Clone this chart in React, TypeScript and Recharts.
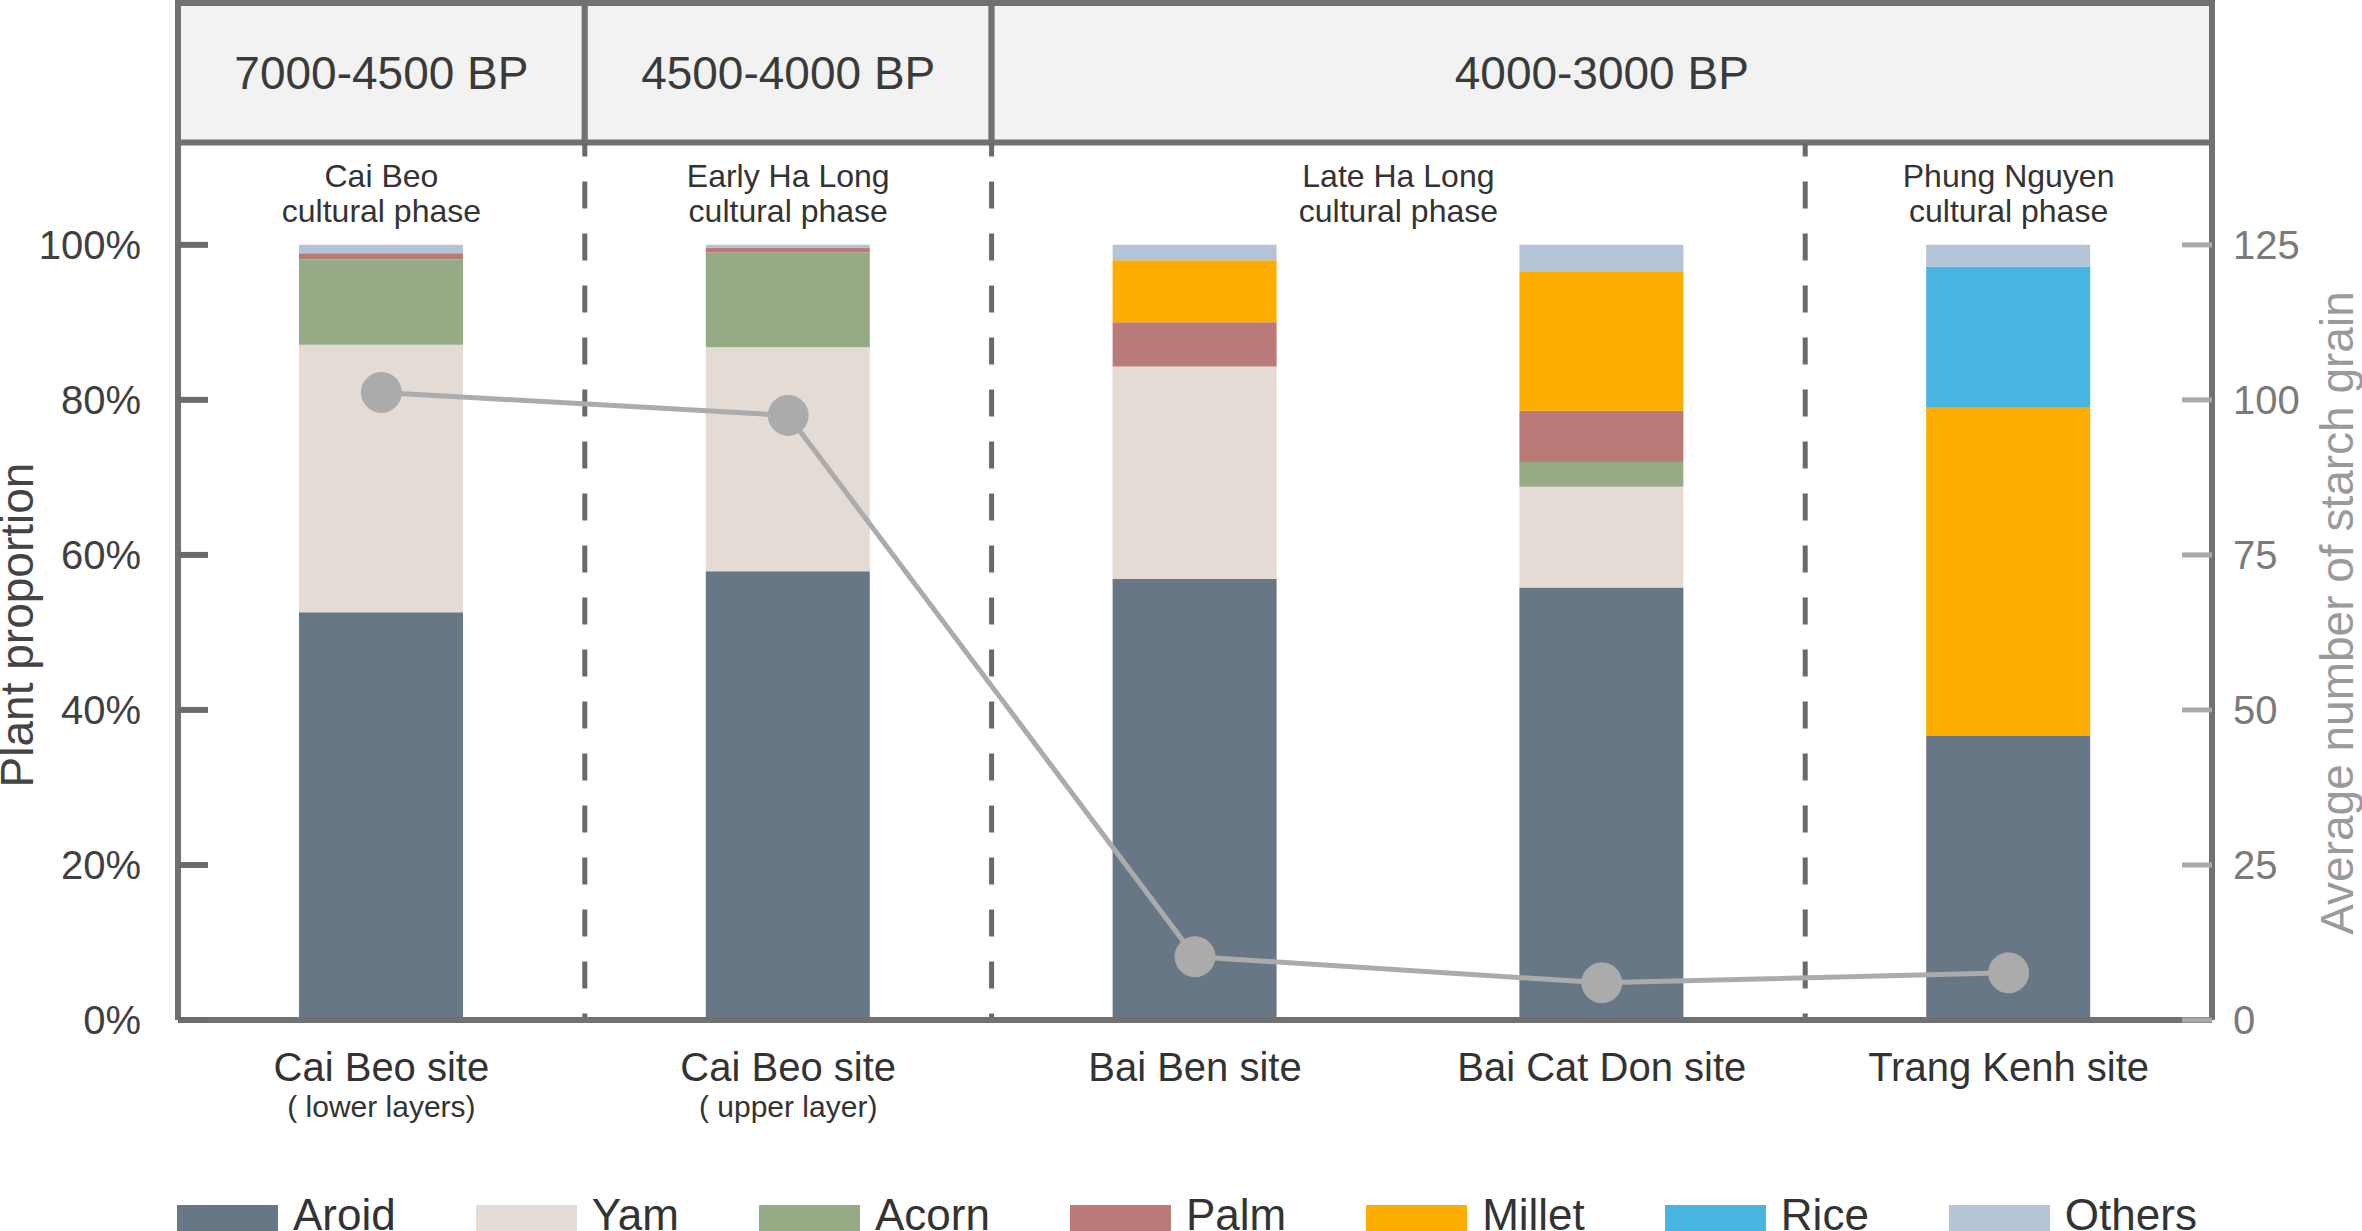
import React from "react";
import {
  ComposedChart,
  Bar,
  Line,
  XAxis,
  YAxis,
  ReferenceArea,
  ReferenceLine,
} from "recharts";

// sites along the x axis
const siteNames = ["Cai Beo site", "Cai Beo site", "Bai Ben site", "Bai Cat Don site", "Trang Kenh site"];
const siteNotes = ["( lower layers)", "( upper layer)", "", "", ""];

// plant proportion (%) per site, bottom to top of each stack
const aroid = [52.6, 57.9, 56.9, 55.8, 36.7];
const yam = [34.5, 28.9, 27.4, 13.0, 0];
const acorn = [11.0, 12.2, 0, 3.2, 0];
const palm = [0.8, 0.6, 5.7, 6.6, 0];
const millet = [0, 0, 8.0, 18.0, 42.3];
const rice = [0, 0, 0, 0, 18.2];
const others = [1.1, 0.4, 2.0, 3.4, 2.8];

// average number of starch grains (right axis)
const grains = [101.2, 97.5, 10.2, 6.0, 7.6];

const leftTicks = [0, 20, 40, 60, 80, 100];
const rightTicks = [0, 25, 50, 75, 100, 125];

// period header boxes: [label, first site, last site]
const periods: [string, number, number][] = [
  ["7000-4500 BP", 0, 0],
  ["4500-4000 BP", 1, 1],
  ["4000-3000 BP", 2, 4],
];

// cultural phases: [line 1, line 2, first site, last site]
const phases: [string, string, number, number][] = [
  ["Cai Beo", "cultural phase", 0, 0],
  ["Early Ha Long", "cultural phase", 1, 1],
  ["Late Ha Long", "cultural phase", 2, 3],
  ["Phung Nguyen", "cultural phase", 4, 4],
];

// dashed separators sit at the start of these sites
const separators = [1, 2, 4];

const series = [
  { key: "Aroid", values: aroid, color: "#687785" },
  { key: "Yam", values: yam, color: "#e3dbd4" },
  { key: "Acorn", values: acorn, color: "#97aa86" },
  { key: "Palm", values: palm, color: "#b97a78" },
  { key: "Millet", values: millet, color: "#fdad00" },
  { key: "Rice", values: rice, color: "#48b5e0" },
  { key: "Others", values: others, color: "#b5c3d6" },
];

const siteIds = siteNames.map((n, i) => `${n}${siteNotes[i]}`);

const data = siteIds.map((id, i) => {
  const row: Record<string, string | number> = { id, grains: grains[i] };
  series.forEach((s) => {
    row[s.key] = s.values[i];
  });
  return row;
});

const FONT = "'Liberation Sans', Arial, Helvetica, sans-serif";
const LEFT_MAX = 131.2;
const RIGHT_MAX = LEFT_MAX * 1.25;
const HEADER_BOTTOM = 113.2;
const AXIS = "#717171";

function SiteTick(props: any) {
  const { x, y, payload } = props;
  const i = payload?.index ?? props.index ?? 0;
  return (
    <g>
      <text x={x} y={y + 61} textAnchor="middle" fontSize={40} fill="#333">
        {siteNames[i]}
      </text>
      {siteNotes[i] ? (
        <text x={x} y={y + 97} textAnchor="middle" fontSize={30} fill="#333">
          {siteNotes[i]}
        </text>
      ) : null}
    </g>
  );
}

function PhaseLabel(props: any) {
  const { viewBox, lines } = props;
  if (!viewBox) return null;
  const cx = viewBox.x + viewBox.width / 2;
  return (
    <text textAnchor="middle" fontSize={32} fill="#333">
      <tspan x={cx} y={viewBox.y + 44}>
        {lines[0]}
      </tspan>
      <tspan x={cx} y={viewBox.y + 79}>
        {lines[1]}
      </tspan>
    </text>
  );
}

export default function App() {
  return (
    <div
      style={{
        position: "absolute",
        left: 0,
        top: 0,
        width: 2362,
        height: 1231,
        overflow: "hidden",
        background: "#fff",
        fontFamily: FONT,
      }}
    >
      <ComposedChart
        width={2362}
        height={1180}
        data={data}
        margin={{ top: 3, right: 0, bottom: 0, left: 0 }}
        style={{ fontFamily: FONT }}
      >
        <XAxis
          dataKey="id"
          height={160}
          interval={0}
          tickLine={false}
          tickSize={0}
          tickMargin={0}
          axisLine={{ stroke: AXIS, strokeWidth: 6 }}
          tick={<SiteTick />}
        />
        <YAxis
          yAxisId="left"
          width={178}
          domain={[0, LEFT_MAX]}
          ticks={leftTicks}
          tickFormatter={(v) => `${v}%`}
          tickSize={-30}
          tickMargin={67}
          axisLine={{ stroke: AXIS, strokeWidth: 6 }}
          tickLine={{ stroke: "#6b6b6b", strokeWidth: 6 }}
          tick={{ fontSize: 40, fill: "#404040" }}
        />
        <YAxis
          yAxisId="right"
          orientation="right"
          width={150}
          domain={[0, RIGHT_MAX]}
          ticks={rightTicks}
          tickSize={-30}
          tickMargin={51}
          axisLine={{ stroke: AXIS, strokeWidth: 6 }}
          tickLine={{ stroke: "#a9a9a9", strokeWidth: 5 }}
          tick={{ fontSize: 40, fill: "#7a7a7a" }}
        />

        {separators.map((s) => (
          <ReferenceLine
            key={`sep-${s}`}
            yAxisId="left"
            position="start"
            segment={[
              { x: siteIds[s], y: HEADER_BOTTOM },
              { x: siteIds[s], y: 0 },
            ]}
            stroke="#696969"
            strokeWidth={5}
            strokeDasharray="27 25"
            strokeDashoffset={13}
          />
        ))}

        {phases.map(([a, b, from, to]) => (
          <ReferenceArea
            key={a}
            yAxisId="left"
            x1={siteIds[from]}
            x2={siteIds[to]}
            y1={100}
            y2={HEADER_BOTTOM}
            fill="none"
            fillOpacity={0}
            stroke="none"
            label={<PhaseLabel lines={[a, b]} />}
          />
        ))}

        {series.map((s) => (
          <Bar
            key={s.key}
            dataKey={s.key}
            yAxisId="left"
            stackId="plants"
            fill={s.color}
            barSize={164}
            isAnimationActive={false}
          />
        ))}

        <Line
          yAxisId="right"
          dataKey="grains"
          stroke="#ababab"
          strokeWidth={5}
          dot={{ r: 20, fill: "#ababab", stroke: "#ababab", strokeWidth: 1 }}
          activeDot={false}
          isAnimationActive={false}
        />

        {periods.map(([label, from, to]) => (
          <ReferenceArea
            key={label}
            yAxisId="left"
            x1={siteIds[from]}
            x2={siteIds[to]}
            y1={HEADER_BOTTOM}
            y2={LEFT_MAX}
            fill="#f2f2f2"
            fillOpacity={1}
            stroke={AXIS}
            strokeWidth={6}
            label={{ value: label, position: "center", fontSize: 46, fill: "#3a3a3a" }}
          />
        ))}
      </ComposedChart>

      <div
        style={{
          position: "absolute",
          left: 0,
          top: 0,
          width: 2362,
          height: 1231,
          pointerEvents: "none",
        }}
      >
        <svg width={2362} height={1231} style={{ position: "absolute", left: 0, top: 0 }}>
          <text
            transform="translate(33, 625) rotate(-90)"
            textAnchor="middle"
            fontSize={46}
            fill="#444"
            fontFamily={FONT}
          >
            Plant proportion
          </text>
          <text
            transform="translate(2353, 613) rotate(-90)"
            textAnchor="middle"
            fontSize={46}
            fill="#9a9a9a"
            fontFamily={FONT}
          >
            Average number of starch grain
          </text>
        </svg>
      </div>

      <div
        style={{
          position: "absolute",
          left: 177,
          top: 1190,
          display: "flex",
          gap: 80,
          whiteSpace: "nowrap",
        }}
      >
        {series.map((s) => (
          <div key={s.key} style={{ display: "flex", alignItems: "flex-start" }}>
            <div style={{ width: 101, height: 34, marginTop: 15, background: s.color }} />
            <span style={{ marginLeft: 15, fontSize: 44, lineHeight: "50px", color: "#333" }}>
              {s.key}
            </span>
          </div>
        ))}
      </div>
    </div>
  );
}
